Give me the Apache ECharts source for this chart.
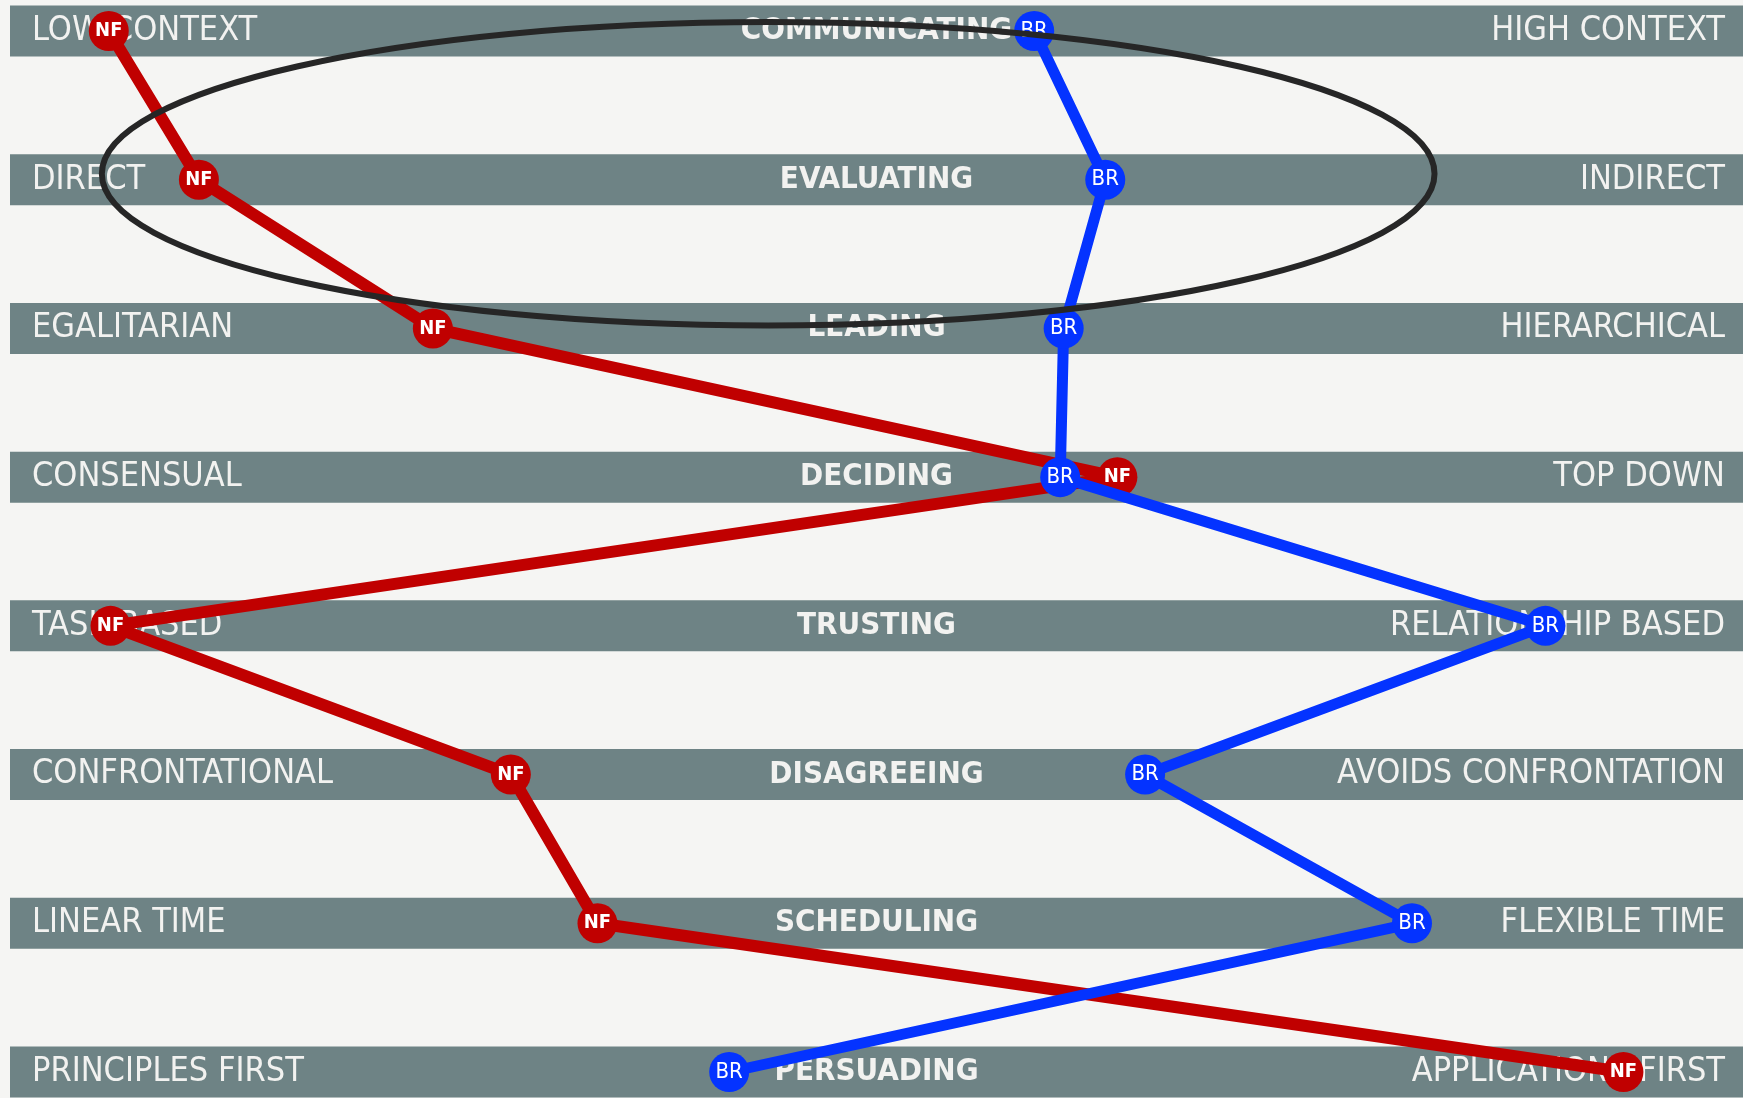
<!DOCTYPE html>
<html>
<head>
<meta charset="utf-8">
<title>Culture Map</title>
<script src="https://cdn.jsdelivr.net/npm/echarts@6/dist/echarts.min.js"></script>
<style>
  html, body { margin: 0; padding: 0; background: #f5f5f3; }
  #chart { width: 1743px; height: 1098px; }
</style>
</head>
<body>
<div id="chart"></div>
<script>
// the eight scales, top to bottom
const scales = ['COMMUNICATING', 'EVALUATING', 'LEADING', 'DECIDING', 'TRUSTING', 'DISAGREEING', 'SCHEDULING', 'PERSUADING'];
const leftEnds = ['LOW CONTEXT', 'DIRECT', 'EGALITARIAN', 'CONSENSUAL', 'TASK BASED', 'CONFRONTATIONAL', 'LINEAR TIME', 'PRINCIPLES FIRST'];
const rightEnds = ['HIGH CONTEXT', 'INDIRECT', 'HIERARCHICAL', 'TOP DOWN', 'RELATIONSHIP BASED', 'AVOIDS CONFRONTATION', 'FLEXIBLE TIME', 'APPLICATIONS FIRST'];

// position on each scale, 0 = left end, 100 = right end
const nfScores = [5.7, 10.9, 24.4, 63.9, 5.8, 28.9, 33.9, 93.1];
const brScores = [59.1, 63.2, 60.8, 60.6, 88.6, 65.5, 80.9, 41.5];

// the circled area: scale range and row range
const circleX = [5.3, 82.2];
const circleRows = [-0.06, 1.98];

const font = '"Liberation Sans Narrow", "DejaVu Sans Condensed", "Liberation Sans", sans-serif';
const bandColor = '#6e8385';
const textColor = '#f2f2f0';

const chart = echarts.init(document.getElementById('chart'));

const yBase = {
  type: 'category',
  data: scales,
  inverse: true,
  boundaryGap: false,
  z: 3,
  axisLine: { show: false },
  axisTick: { show: false },
  splitLine: { show: false }
};

chart.setOption({
  backgroundColor: '#f5f5f3',
  animation: false,
  grid: { left: 10, right: 0, top: 31, bottom: 26 },
  xAxis: { type: 'value', min: 0, max: 100, show: false },
  yAxis: [
    Object.assign({}, yBase, {
      position: 'left',
      axisLabel: {
        inside: true, margin: 22, interval: 0,
        formatter: (v, i) => leftEnds[i],
        color: textColor, fontSize: 34, fontFamily: font
      }
    }),
    Object.assign({}, yBase, {
      position: 'right',
      axisLabel: {
        inside: true, margin: 18, interval: 0,
        formatter: (v, i) => rightEnds[i],
        color: textColor, fontSize: 34, fontFamily: font
      }
    })
  ],
  series: [
    {
      // grey bands with the scale name in the middle
      type: 'bar',
      data: scales.map(() => 100),
      barWidth: 51,
      clip: false,
      silent: true,
      z: 1,
      itemStyle: { color: bandColor },
      label: {
        show: true, position: 'inside',
        formatter: p => p.name,
        color: textColor, fontSize: 31, fontWeight: 'bold', fontFamily: font
      }
    },
    {
      name: 'NF',
      type: 'line',
      data: nfScores,
      clip: false,
      z: 4,
      symbol: 'circle',
      symbolSize: 40,
      showAllSymbol: true,
      lineStyle: { color: '#c00000', width: 12 },
      itemStyle: { color: '#c00000' },
      label: {
        show: true, position: 'inside', formatter: 'NF',
        color: '#ffffff', fontSize: 20, fontWeight: 'bold', fontFamily: font
      }
    },
    {
      name: 'BR',
      type: 'line',
      data: brScores,
      clip: false,
      z: 5,
      symbol: 'circle',
      symbolSize: 40,
      showAllSymbol: true,
      lineStyle: { color: '#0433ff', width: 11 },
      itemStyle: { color: '#0433ff' },
      label: {
        show: true, position: 'inside', formatter: 'BR',
        color: '#ffffff', fontSize: 22, fontFamily: font
      }
    },
    {
      // ellipse drawn around the first two scales
      type: 'custom',
      z: 10,
      silent: true,
      data: [0],
      renderItem: (params, api) => {
        const a = api.coord([circleX[0], 0]);
        const b = api.coord([circleX[1], 1]);
        const step = b[1] - a[1];
        const top = a[1] + circleRows[0] * step;
        const bottom = a[1] + circleRows[1] * step;
        return {
          type: 'ellipse',
          shape: {
            cx: (a[0] + b[0]) / 2, cy: (top + bottom) / 2,
            rx: (b[0] - a[0]) / 2, ry: (bottom - top) / 2
          },
          style: { fill: 'none', stroke: '#262626', lineWidth: 6 }
        };
      }
    }
  ]
});
</script>
</body>
</html>
